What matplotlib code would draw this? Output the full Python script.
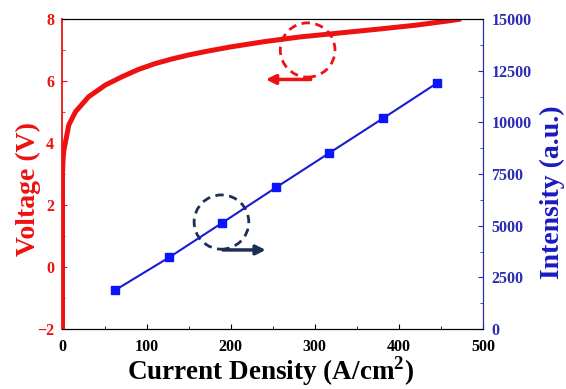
import matplotlib.pyplot as plt
from matplotlib.patches import Ellipse
from matplotlib.ticker import MultipleLocator

# voltage curve (A/cm2, V)
current_v = [0, 0, 0.5, 1.5, 3.6, 7.5, 15.5, 31, 51, 71, 90, 110, 130, 150, 170, 200,
             240, 282, 330, 378, 420, 462, 474]
voltage = [-2.0, 3.0, 3.4, 3.75, 4.04, 4.58, 5.01, 5.49, 5.87, 6.14, 6.37, 6.56, 6.71,
           6.84, 6.95, 7.1, 7.27, 7.42, 7.55, 7.68, 7.8, 7.95, 8.0]

# intensity points
current_i = [63, 127, 190, 254, 317, 381, 445]
intensity = [1890, 3470, 5140, 6850, 8510, 10190, 11890]

plt.rcParams['font.family'] = 'Liberation Serif'
plt.rcParams['font.weight'] = 'bold'
plt.rcParams['mathtext.fontset'] = 'custom'
plt.rcParams['mathtext.rm'] = 'Liberation Serif:bold'
plt.rcParams['mathtext.bf'] = 'Liberation Serif:bold'

red = '#ee1111'
blue = '#1a1ad0'
navy = '#1c2f55'

fig = plt.figure(figsize=(5.66, 3.89), dpi=100)
ax = fig.add_axes([62.5/566, 60/389, 420.5/566, 310/389])
ax.plot(current_v, voltage, color=red, lw=3.6, solid_capstyle='butt', solid_joinstyle='round')
ax.set_xlim(0, 500)
ax.set_ylim(-2, 8)
ax.xaxis.set_major_locator(MultipleLocator(100))
ax.xaxis.set_minor_locator(MultipleLocator(50))
ax.yaxis.set_major_locator(MultipleLocator(2))
ax.yaxis.set_minor_locator(MultipleLocator(1))
ax.tick_params(axis='both', which='both', direction='in', labelsize=11.5)
ax.tick_params(axis='x', which='both', top=False, pad=7)
ax.tick_params(axis='y', which='both', colors=red, pad=6)
ax.spines['left'].set_color(red)
ax.spines['left'].set_linewidth(1.3)
ax.set_xlabel('Current Density (A/cm$^{2}$)', fontsize=19.5, fontweight='bold')
ax.xaxis.set_label_coords(0.495, -0.08)
ax.set_ylabel('Voltage (V)', fontsize=20, fontweight='bold', color=red)
ax.yaxis.set_label_coords(-0.052, 0.45)

ax2 = ax.twinx()
ax2.plot(current_i, intensity, color=blue, lw=1.5, marker='s', ms=6,
         markerfacecolor='#0a14ff', markeredgecolor='#0a14ff')
ax2.set_ylim(0, 15000)
ax2.yaxis.set_major_locator(MultipleLocator(2500))
ax2.yaxis.set_minor_locator(MultipleLocator(1250))
ax2.tick_params(axis='y', which='both', direction='in', colors='#2b2bb5',
                labelsize=11.5, pad=6)
ax2.spines['right'].set_color('#2b2bb5')
ax2.spines['left'].set_visible(False)
ax2.set_ylabel('Intensity (a.u.)', fontsize=20, fontweight='bold', color='#1a1ac0')
ax2.yaxis.set_label_coords(1.135, 0.44)

# annotation circles and arrows
ax.add_patch(Ellipse((0.583, 0.9), 0.13, 0.175, transform=ax.transAxes, fill=False,
                     ec=red, lw=2, ls=(0, (3, 2))))
ax.annotate('', xy=(0.477, 0.805), xytext=(0.597, 0.805), xycoords='axes fraction',
            arrowprops=dict(arrowstyle='-|>', color=red, lw=2.5, mutation_scale=14))
ax.add_patch(Ellipse((0.378, 0.345), 0.13, 0.175, transform=ax.transAxes, fill=False,
                     ec=navy, lw=2, ls=(0, (3, 2))))
ax.annotate('', xy=(0.49, 0.255), xytext=(0.375, 0.255), xycoords='axes fraction',
            arrowprops=dict(arrowstyle='-|>', color=navy, lw=2.5, mutation_scale=14))

fig.savefig('out.png', dpi=100)
